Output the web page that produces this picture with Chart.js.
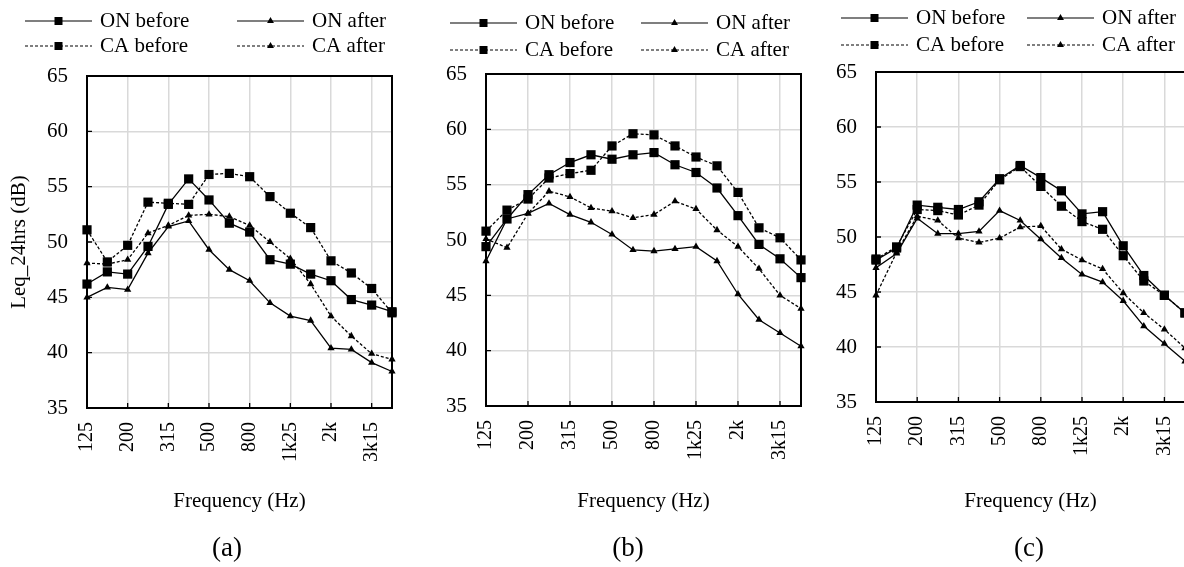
<!DOCTYPE html>
<html>
<head>
<meta charset="utf-8">
<script src="https://cdn.jsdelivr.net/npm/chart.js@4.4.1/dist/chart.umd.min.js"></script>
<style>
html, body { margin: 0; padding: 0; background: #fff; }
#wrap { position: relative; width: 1184px; height: 567px; overflow: hidden; background: #fff; }
#wrap canvas { position: absolute; top: 0; }
</style>
</head>
<body>
<div id="wrap">
  <canvas id="chartA" width="400" height="567" style="left:0px"></canvas>
  <canvas id="chartB" width="410" height="567" style="left:400px"></canvas>
  <canvas id="chartC" width="400" height="567" style="left:800px"></canvas>
</div>
<script>
// ---------- data ----------
const categories = ['125','160','200','250','315','400','500','630','800','1k','1k25','1k6','2k','2k5','3k15','4k'];
const seriesNames = ['ON before', 'ON after', 'CA before', 'CA after'];
const yTitle = 'Leq_24hrs (dB)';
const xTitle = 'Frequency (Hz)';
const captions = ['(a)', '(b)', '(c)'];
const yMin = 35, yMax = 65, yStep = 5;

// panel (a)
const aOnBefore = [46.2, 47.3, 47.1, 49.6, 53.4, 55.7, 53.8, 51.7, 50.9, 48.4, 48.0, 47.1, 46.5, 44.8, 44.3, 43.7];
const aOnAfter  = [45.0, 45.9, 45.7, 49.0, 51.4, 51.9, 49.3, 47.5, 46.5, 44.5, 43.3, 42.9, 40.4, 40.3, 39.1, 38.3];
const aCaBefore = [51.1, 48.2, 49.7, 53.6, 53.5, 53.4, 56.1, 56.2, 55.9, 54.1, 52.6, 51.3, 48.3, 47.2, 45.8, 43.6];
const aCaAfter  = [48.1, 48.0, 48.4, 50.8, 51.5, 52.4, 52.5, 52.3, 51.5, 50.0, 48.5, 46.2, 43.3, 41.5, 39.9, 39.4];

// panel (b)
const bOnBefore = [49.4, 51.9, 54.1, 55.9, 57.0, 57.7, 57.3, 57.7, 57.9, 56.8, 56.1, 54.7, 52.2, 49.6, 48.3, 46.6];
const bOnAfter  = [48.1, 51.9, 52.4, 53.3, 52.3, 51.6, 50.5, 49.1, 49.0, 49.2, 49.4, 48.1, 45.1, 42.8, 41.6, 40.4];
const bCaBefore = [50.8, 52.7, 53.7, 55.6, 56.0, 56.3, 58.5, 59.6, 59.5, 58.5, 57.5, 56.7, 54.3, 51.1, 50.2, 48.2];
const bCaAfter  = [50.1, 49.3, 52.4, 54.4, 53.9, 52.9, 52.6, 52.0, 52.3, 53.5, 52.8, 50.9, 49.4, 47.4, 45.0, 43.8];

// panel (c)
const cOnBefore = [47.9, 49.0, 52.9, 52.7, 52.5, 53.2, 55.3, 56.5, 55.4, 54.2, 52.1, 52.3, 49.2, 46.5, 44.7, 43.1];
const cOnAfter  = [47.2, 48.5, 51.7, 50.3, 50.3, 50.5, 52.4, 51.5, 49.8, 48.1, 46.6, 45.9, 44.2, 41.9, 40.3, 38.7];
const cCaBefore = [48.0, 49.1, 52.5, 52.4, 52.0, 52.9, 55.2, 56.4, 54.6, 52.8, 51.4, 50.7, 48.3, 46.0, 44.7, 43.1];
const cCaAfter  = [44.7, 48.6, 51.9, 51.5, 49.9, 49.5, 49.9, 50.9, 51.0, 48.9, 47.9, 47.1, 44.9, 43.1, 41.6, 39.9];

// ---------- styling ----------
const FONT = '"Liberation Serif", "Times New Roman", serif';
const GRID = '#d9d9d9';
const DASH = [3, 2];

function marker(ctx, style, x, y) {
  ctx.beginPath();
  if (style === 'rect') {
    const h = 4;
    ctx.rect(x - h, y - h, 2 * h, 2 * h);
  } else {
    const r = 4;
    ctx.moveTo(x, y - r);
    ctx.lineTo(x + r * 0.866, y + r / 2);
    ctx.lineTo(x - r * 0.866, y + r / 2);
    ctx.closePath();
  }
  ctx.fill();
}

const framePlugin = {
  id: 'frame',
  beforeDatasetsDraw(chart) {
    const { ctx, chartArea: a, scales: { x, y } } = chart;
    ctx.save();
    ctx.strokeStyle = '#000';
    ctx.lineWidth = 1.3;
    ctx.beginPath();
    y.ticks.forEach((t, i) => {
      const py = y.getPixelForTick(i);
      ctx.moveTo(a.left, py); ctx.lineTo(a.left + 5, py);
    });
    x.ticks.forEach((t, i) => {
      const px = x.getPixelForTick(i);
      ctx.moveTo(px, a.bottom); ctx.lineTo(px, a.bottom - 5);
    });
    ctx.stroke();
    ctx.lineWidth = 2;
    ctx.strokeRect(a.left, a.top, a.right - a.left, a.bottom - a.top);
    ctx.restore();
  }
};

const pairLegend = {
  id: 'pairLegend',
  afterDraw(chart, args, opts) {
    const ctx = chart.ctx;
    ctx.save();
    ctx.font = '21px ' + FONT;
    ctx.textBaseline = 'middle';
    ctx.textAlign = 'left';
    ctx.fillStyle = '#000';
    chart.data.datasets.forEach((ds, i) => {
      const x0 = opts.cols[i % 2];
      const y0 = opts.rows[Math.floor(i / 2)];
      ctx.strokeStyle = '#000';
      ctx.lineWidth = 1.2;
      ctx.setLineDash(ds.borderDash || []);
      ctx.beginPath();
      ctx.moveTo(x0, y0); ctx.lineTo(x0 + opts.len, y0);
      ctx.stroke();
      ctx.setLineDash([]);
      marker(ctx, ds.pointStyle, x0 + opts.len / 2, y0);
      ctx.fillText(ds.label, x0 + opts.len + opts.gap, y0);
    });
    if (opts.caption) {
      ctx.font = '27px ' + FONT;
      ctx.textAlign = 'center';
      ctx.fillText(opts.caption, opts.capX, opts.capY);
    }
    ctx.restore();
  }
};

function makeDatasets(onB, onA, caB, caA) {
  const vals = [onB, onA, caB, caA];
  return seriesNames.map((name, i) => ({
    label: name,
    data: vals[i],
    borderColor: '#000',
    backgroundColor: '#000',
    borderWidth: 1.3,
    borderDash: i >= 2 ? DASH : [],
    pointStyle: i % 2 === 0 ? 'rect' : 'triangle',
    pointRadius: i % 2 === 0 ? 6.5 : 4.2,
    pointBorderWidth: 0,
    pointBackgroundColor: '#000',
    tension: 0,
    clip: false
  }));
}

function makeChart(id, cfg) {
  return new Chart(document.getElementById(id), {
    type: 'line',
    data: { labels: categories, datasets: makeDatasets(...cfg.series) },
    options: {
      responsive: false,
      animation: false,
      devicePixelRatio: 1,
      events: [],
      layout: { padding: { top: cfg.top, right: cfg.right, left: 0, bottom: 0 } },
      plugins: {
        legend: { display: false },
        tooltip: { enabled: false },
        pairLegend: { cols: cfg.cols, rows: cfg.rows, len: 67, gap: 8,
                      caption: cfg.caption, capX: cfg.capX, capY: 549 }
      },
      scales: {
        x: {
          type: 'category',
          offset: false,
          afterBuildTicks: s => { s.ticks = s.ticks.filter(t => t.value % 2 === 0); },
          afterFit: s => { s.height = 567 - cfg.bottom; s.paddingLeft = 0; s.paddingRight = 0; },
          grid: { color: GRID, lineWidth: 1.5, drawTicks: false },
          border: { display: false },
          ticks: { autoSkip: false, maxRotation: 90, minRotation: 90, padding: 14,
                   color: '#000', font: { family: FONT, size: 20 } },
          title: { display: true, text: xTitle, color: '#000',
                   font: { family: FONT, size: 21 }, padding: { top: 0, bottom: 53.4 } }
        },
        y: {
          min: yMin, max: yMax,
          afterFit: s => { s.width = cfg.yWidth; },
          grid: { color: GRID, lineWidth: 1.5, drawTicks: false },
          border: { display: false },
          ticks: { stepSize: yStep, padding: 19, color: '#000',
                   font: { family: FONT, size: 21 } },
          title: { display: cfg.yTitle, text: yTitle, color: '#000',
                   font: { family: FONT, size: 21 }, padding: { top: 6.4, bottom: 0 } }
        }
      }
    },
    plugins: [framePlugin, pairLegend]
  });
}

makeChart('chartA', {
  series: [aOnBefore, aOnAfter, aCaBefore, aCaAfter],
  top: 76, bottom: 408, right: 8, yWidth: 87, yTitle: true,
  cols: [25, 237], rows: [21, 46], caption: captions[0], capX: 227
});
makeChart('chartB', {
  series: [bOnBefore, bOnAfter, bCaBefore, bCaAfter],
  top: 74, bottom: 406, right: 9, yWidth: 86, yTitle: false,
  cols: [50, 241], rows: [23, 50], caption: captions[1], capX: 228
});
makeChart('chartC', {
  series: [cOnBefore, cOnAfter, cCaBefore, cCaAfter],
  top: 72, bottom: 402, right: 15, yWidth: 76, yTitle: false,
  cols: [41, 227], rows: [18, 45], caption: captions[2], capX: 229
});
</script>
</body>
</html>
